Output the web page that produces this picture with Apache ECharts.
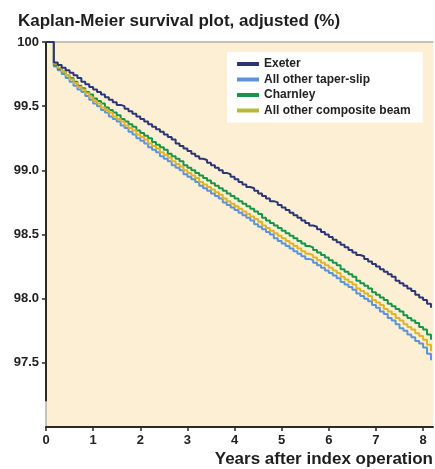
<!DOCTYPE html>
<html><head><meta charset="utf-8">
<script src="https://cdn.jsdelivr.net/npm/echarts@6/dist/echarts.min.js"></script>
<style>html,body{margin:0;padding:0;background:#fff}#c{width:435px;height:469px}</style>
</head><body><div id="c"></div>
<script>
// monthly Kaplan-Meier estimates (%), month 0..98
const seriesNames = ['Exeter', 'All other taper-slip', 'Charnley', 'All other composite beam'];
const exeter = [100,100,99.84,99.82,99.80,99.78,99.76,99.74,99.72,99.69,99.67,99.65,99.63,
99.61,99.59,99.57,99.55,99.53,99.51,99.50,99.48,99.46,99.44,99.42,99.40,
99.38,99.36,99.34,99.32,99.30,99.28,99.26,99.24,99.21,99.19,99.17,99.15,
99.13,99.11,99.09,99.08,99.06,99.04,99.02,99.00,98.98,98.97,98.95,98.93,
98.91,98.89,98.87,98.86,98.84,98.82,98.80,98.78,98.76,98.75,98.73,98.71,
98.69,98.67,98.65,98.63,98.61,98.59,98.57,98.56,98.54,98.52,98.50,98.48,
98.46,98.44,98.42,98.40,98.38,98.36,98.34,98.33,98.31,98.29,98.27,98.25,
98.23,98.21,98.19,98.17,98.14,98.12,98.10,98.08,98.06,98.03,98.01,97.99,97.96,97.93];
const taperSlip = [100,100,99.81,99.78,99.75,99.72,99.69,99.66,99.63,99.61,99.58,99.55,99.52,
99.50,99.47,99.45,99.42,99.40,99.38,99.35,99.33,99.30,99.28,99.25,99.23,
99.21,99.18,99.16,99.14,99.11,99.09,99.07,99.04,99.02,99.00,98.97,98.95,
98.93,98.91,98.88,98.86,98.84,98.82,98.80,98.78,98.75,98.73,98.71,98.69,
98.67,98.65,98.63,98.61,98.58,98.56,98.54,98.52,98.50,98.47,98.45,98.43,
98.41,98.39,98.37,98.35,98.33,98.31,98.30,98.28,98.26,98.24,98.22,98.20,
98.18,98.16,98.13,98.11,98.09,98.07,98.04,98.02,98.00,97.98,97.95,97.93,
97.90,97.88,97.85,97.83,97.80,97.77,97.75,97.72,97.70,97.67,97.65,97.62,97.57,97.52];
const charnley = [100,100,99.82,99.79,99.77,99.74,99.72,99.69,99.66,99.64,99.61,99.59,99.56,
99.54,99.52,99.49,99.47,99.45,99.43,99.40,99.38,99.36,99.34,99.31,99.29,
99.27,99.25,99.22,99.20,99.18,99.16,99.13,99.11,99.09,99.07,99.04,99.02,
99.00,98.98,98.96,98.94,98.92,98.90,98.88,98.86,98.84,98.82,98.80,98.78,
98.76,98.74,98.72,98.70,98.68,98.66,98.63,98.61,98.59,98.57,98.55,98.53,
98.51,98.49,98.47,98.45,98.43,98.41,98.40,98.38,98.36,98.34,98.32,98.30,
98.28,98.26,98.23,98.21,98.19,98.17,98.14,98.12,98.10,98.08,98.05,98.03,
98.01,97.99,97.96,97.94,97.92,97.90,97.87,97.85,97.83,97.81,97.78,97.76,97.72,97.68];
const compositeBeam = [100,100,99.83,99.80,99.77,99.74,99.71,99.68,99.65,99.63,99.60,99.57,99.54,
99.52,99.49,99.47,99.45,99.42,99.40,99.38,99.35,99.33,99.31,99.28,99.26,
99.24,99.21,99.19,99.17,99.14,99.12,99.10,99.07,99.05,99.03,99.00,98.98,
98.96,98.94,98.91,98.89,98.87,98.85,98.83,98.81,98.78,98.76,98.74,98.72,
98.70,98.68,98.66,98.64,98.62,98.60,98.57,98.55,98.53,98.51,98.49,98.47,
98.45,98.43,98.41,98.39,98.37,98.35,98.34,98.32,98.30,98.28,98.26,98.24,
98.22,98.20,98.17,98.15,98.13,98.11,98.08,98.06,98.04,98.02,97.99,97.97,
97.95,97.92,97.90,97.88,97.85,97.83,97.80,97.78,97.76,97.73,97.71,97.68,97.64,97.59];
const xTicks = [0,1,2,3,4,5,6,7,8];
const yTicks = [97.5,98.0,98.5,99.0,99.5,100];
const yAxisStub = [97.2, 100];

const FONT = '"Liberation Sans", Arial, sans-serif';
const lineColors = ['#2c3677', '#5b93d6', '#17954a', '#e0b42a'];
const legendColors = ['#2c3677', '#5b93d6', '#17954a', '#b8b83c'];
const allData = [exeter, taperSlip, charnley, compositeBeam];

const chart = echarts.init(document.getElementById('c'), null, {renderer: 'canvas'});
const series = allData.map((vals, k) => ({
  name: seriesNames[k], type: 'line', step: 'end', showSymbol: false, symbol: 'none',
  data: vals.map((v, i) => [i / 12, v]),
  lineStyle: {color: lineColors[k], width: 2},
  itemStyle: {color: legendColors[k]},
  z: k === 0 ? 5 : 3 + k * 0.1,
  clip: false, animation: false
}));
series.push({
  name: 'axis', type: 'line', symbol: 'none', silent: true, clip: false, animation: false,
  data: yAxisStub.map(v => [0, v]),
  lineStyle: {color: '#2a2a2a', width: 2}, z: 10
});

chart.setOption({
  animation: false,
  backgroundColor: '#ffffff',
  title: {text: 'Kaplan-Meier survival plot, adjusted (%)', left: 13, top: 8,
    textStyle: {fontFamily: FONT, fontSize: 17, fontWeight: 'bold', color: '#1e1e1e'}},
  grid: {left: 46, right: 2, top: 42, bottom: 42, show: true, backgroundColor: '#fdefd4', borderWidth: 0},
  legend: {
    data: seriesNames, orient: 'vertical', left: 227, top: 52,
    backgroundColor: '#ffffff', padding: [6, 12, 6, 10], itemGap: 3.5,
    icon: 'rect', itemWidth: 22, itemHeight: 4,
    textStyle: {fontFamily: FONT, fontSize: 12, fontWeight: 'bold', color: '#222'}
  },
  xAxis: [{
    type: 'value', min: 0, max: 8.21, interval: 1,
    axisLine: {show: true, lineStyle: {color: '#2a2a2a', width: 2}},
    axisTick: {show: true, length: 4, customValues: xTicks, lineStyle: {color: '#2a2a2a', width: 1.5}},
    axisLabel: {customValues: xTicks, margin: 7, fontFamily: FONT, fontSize: 13, fontWeight: 'bold', color: '#222'},
    splitLine: {show: false}
  }, {
    type: 'value', position: 'top', min: 0, max: 8.21,
    axisLine: {show: true, lineStyle: {color: '#b0b0b0', width: 1.5}},
    axisTick: {show: false}, axisLabel: {show: false}, splitLine: {show: false}
  }],
  yAxis: [{
    type: 'value', min: 97, max: 100, interval: 0.5,
    axisLine: {show: false},
    axisTick: {show: true, length: 4, customValues: yTicks, lineStyle: {color: '#2a2a2a', width: 1.5}},
    axisLabel: {customValues: yTicks, margin: 7, fontFamily: FONT, fontSize: 13, fontWeight: 'bold', color: '#222',
      formatter: v => (v === 100 ? '100' : v.toFixed(1))},
    splitLine: {show: false}
  }, {
    type: 'value', position: 'right', min: 97, max: 100,
    axisLine: {show: true, lineStyle: {color: '#b0b0b0', width: 1.5}},
    axisTick: {show: false}, axisLabel: {show: false}, splitLine: {show: false}
  }],
  graphic: [{
    type: 'text', right: 2, bottom: 1,
    style: {text: 'Years after index operation', fontFamily: FONT, fontSize: 17, fontWeight: 'bold', fill: '#1e1e1e'}
  }],
  series: series
});
</script></body></html>
